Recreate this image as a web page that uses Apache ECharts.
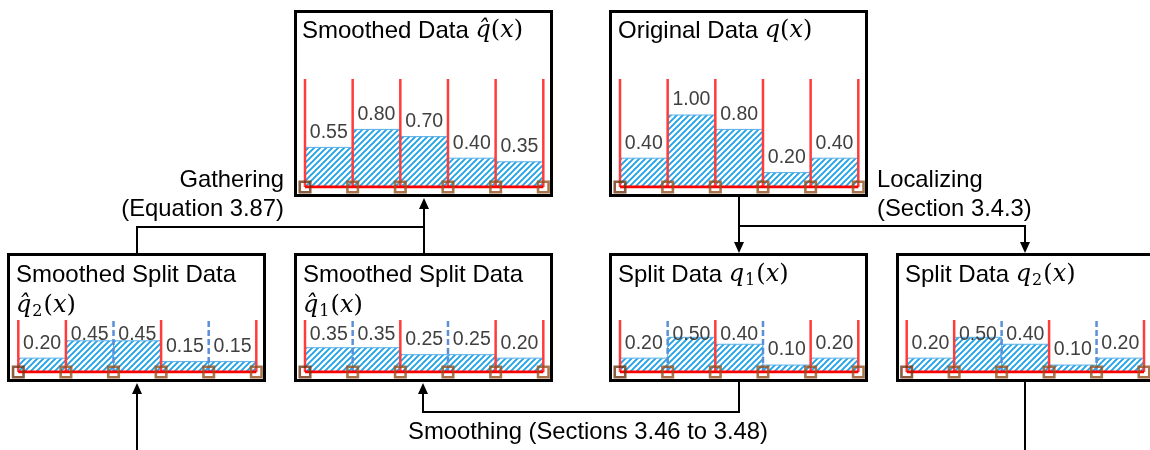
<!DOCTYPE html>
<html>
<head>
<meta charset="utf-8">
<script src="https://cdn.jsdelivr.net/npm/echarts@6/dist/echarts.min.js"></script>
<style>
  html, body { margin: 0; padding: 0; background: #fff; }
  #chart { width: 1150px; height: 450px; }
</style>
</head>
<body>
<div id="chart"></div>
<script>
// Bin edges shared by every histogram panel
const binEdges = [0, 1, 2, 3, 4, 5];

// Histogram heights per bin
const smoothedValues = [0.55, 0.80, 0.70, 0.40, 0.35];
const originalValues = [0.40, 1.00, 0.80, 0.20, 0.40];
const smoothedSplit2Values = [0.20, 0.45, 0.45, 0.15, 0.15];
const smoothedSplit1Values = [0.35, 0.35, 0.25, 0.25, 0.20];
const split1Values = [0.20, 0.50, 0.40, 0.10, 0.20];
const split2Values = [0.20, 0.50, 0.40, 0.10, 0.20];

// Boundary style at each edge: solid = partition boundary, dashed = inner edge
const fullBoundaries = ['solid', 'solid', 'solid', 'solid', 'solid', 'solid'];
const split1Boundaries = ['solid', 'dashed', 'solid', 'dashed', 'solid', 'solid'];
const split2Boundaries = ['solid', 'solid', 'dashed', 'solid', 'dashed', 'solid'];

// Value-axis ranges
const topAxisMax = 1.5;
const bottomAxisMax = 0.75;

const SANS = '"Liberation Sans", Arial, sans-serif';

// Diagonal hatch tile used to fill the bars
const hatch = (function () {
  const c = document.createElement('canvas');
  c.width = 6; c.height = 6;
  const g = c.getContext('2d');
  g.fillStyle = '#ffffff';
  g.fillRect(0, 0, 6, 6);
  g.strokeStyle = '#1fa3e6';
  g.lineWidth = 1.9;
  g.beginPath();
  g.moveTo(-1, 7); g.lineTo(7, -1);
  g.moveTo(-4, 4); g.lineTo(4, -4);
  g.moveTo(2, 10); g.lineTo(10, 2);
  g.stroke();
  return { image: c, repeat: 'repeat' };
})();

const panels = [
  { left: 305, top: 79, width: 238.3, height: 108, max: topAxisMax, values: smoothedValues, edges: fullBoundaries },
  { left: 620, top: 79, width: 238.3, height: 108, max: topAxisMax, values: originalValues, edges: fullBoundaries },
  { left: 18.3, top: 320, width: 238, height: 52, max: bottomAxisMax, values: smoothedSplit2Values, edges: split2Boundaries },
  { left: 305, top: 320, width: 238.3, height: 52, max: bottomAxisMax, values: smoothedSplit1Values, edges: split1Boundaries },
  { left: 620, top: 320, width: 238.3, height: 52, max: bottomAxisMax, values: split1Values, edges: split1Boundaries },
  { left: 906.7, top: 320, width: 237.3, height: 52, max: bottomAxisMax, values: split2Values, edges: split2Boundaries }
];

const grid = [], xAxis = [], yAxis = [], series = [];

panels.forEach(function (p, k) {
  grid.push({ left: p.left, top: p.top, width: p.width, height: p.height });
  xAxis.push({ type: 'value', gridIndex: k, min: binEdges[0], max: binEdges[binEdges.length - 1], show: false });
  yAxis.push({ type: 'value', gridIndex: k, min: 0, max: p.max, show: false });

  // hatched bars with their value labels
  series.push({
    type: 'custom', xAxisIndex: k, yAxisIndex: k, z: 2,
    data: p.values.map(function (v, i) { return [binEdges[i], binEdges[i + 1], v]; }),
    renderItem: function (params, api) {
      const a = api.coord([api.value(0), 0]);
      const b = api.coord([api.value(1), api.value(2)]);
      const ceil = api.coord([api.value(0), p.max])[1];
      const labelY = Math.max(b[1] - 15, ceil + 15);
      return {
        type: 'group',
        children: [
          { type: 'rect', shape: { x: a[0], y: b[1], width: b[0] - a[0], height: a[1] - b[1] },
            style: { fill: hatch, stroke: '#5aaee8', lineWidth: 1 } },
          { type: 'text', style: { text: api.value(2).toFixed(2), x: (a[0] + b[0]) / 2, y: labelY,
            align: 'center', verticalAlign: 'middle', font: '19.5px ' + SANS, fill: '#404040' } }
        ]
      };
    }
  });

  // bin boundaries
  series.push({
    type: 'custom', xAxisIndex: k, yAxisIndex: k, z: 3,
    data: p.edges.map(function (s, i) { return [binEdges[i], s === 'dashed' ? 1 : 0]; }),
    renderItem: function (params, api) {
      const a = api.coord([api.value(0), 0]);
      const b = api.coord([api.value(0), p.max]);
      const dashed = api.value(1) === 1;
      return {
        type: 'line',
        shape: { x1: a[0], y1: a[1], x2: b[0], y2: b[1] },
        style: dashed
          ? { stroke: '#5b8fd8', lineWidth: 2.5, lineDash: [6, 3] }
          : { stroke: '#ff3b3b', lineWidth: 2.5 }
      };
    }
  });

  // baseline
  series.push({
    type: 'line', xAxisIndex: k, yAxisIndex: k, z: 4,
    data: [[binEdges[0], 0], [binEdges[binEdges.length - 1], 0]],
    showSymbol: false, silent: true,
    lineStyle: { color: '#ff0000', width: 3 }
  });

  // edge markers
  series.push({
    type: 'scatter', xAxisIndex: k, yAxisIndex: k, z: 5,
    data: binEdges.map(function (e, i) {
      return i === 0 ? { value: [e, 0], itemStyle: { borderColor: '#6e3510' } } : [e, 0];
    }),
    symbol: 'rect', symbolSize: 10.5, silent: true,
    itemStyle: { color: 'rgba(0,0,0,0)', borderColor: '#93511f', borderWidth: 2.6 }
  });
});

// ---- frames, connectors and captions ----
function box(x, y, w, h) {
  return { type: 'rect', shape: { x: x, y: y, width: w, height: h },
    style: { fill: 'none', stroke: '#000', lineWidth: 3 }, z: 10 };
}
function path(points) {
  return { type: 'polyline', shape: { points: points },
    style: { fill: 'none', stroke: '#000', lineWidth: 2 }, z: 10 };
}
function arrow(x, y, dir) {
  const d = dir === 'up' ? 11 : -11;
  return { type: 'polygon', shape: { points: [[x, y], [x - 5, y + d], [x + 5, y + d]] },
    style: { fill: '#000' }, z: 11 };
}
function caption(text, x, y, align) {
  return { type: 'text', z: 12, style: { text: text, x: x, y: y, align: align,
    verticalAlign: 'middle', font: '23.8px ' + SANS, fill: '#000' } };
}
const titleRich = {
  t: { fontFamily: 'Liberation Sans', fontSize: 24, color: '#000' },
  m: { fontFamily: 'DejaVu Serif', fontStyle: 'italic', fontSize: 24, color: '#000' },
  p: { fontFamily: 'DejaVu Serif', fontSize: 24, color: '#000' },
  s: { fontFamily: 'DejaVu Serif', fontSize: 16, color: '#000', padding: [11, 1, 0, 1] }
};
function title(text, x, y) {
  return { type: 'text', z: 12, style: { text: text, x: x, y: y, align: 'left',
    verticalAlign: 'middle', rich: titleRich } };
}

const graphic = [
  box(295.5, 11.5, 256, 184),
  box(610.5, 11.5, 256, 184),
  box(8.5, 254.5, 256, 126),
  box(295.5, 254.5, 256, 126),
  box(610.5, 254.5, 256, 126),
  box(897.5, 254.5, 300, 126),

  // gathering
  path([[137, 254], [137, 227], [424, 227]]),
  path([[424, 254], [424, 205]]),
  arrow(424, 198, 'up'),
  // localizing
  path([[739, 197], [739, 246]]),
  arrow(739, 253, 'down'),
  path([[739, 226], [1025, 226], [1025, 246]]),
  arrow(1025, 253, 'down'),
  // smoothing
  path([[739, 382], [739, 412], [423, 412], [423, 390]]),
  arrow(423, 383, 'up'),
  // incoming / outgoing
  path([[137, 450], [137, 390]]),
  arrow(137, 383, 'up'),
  path([[1025, 382], [1025, 450]]),

  caption('Gathering', 284, 180, 'right'),
  caption('(Equation 3.87)', 284, 209, 'right'),
  caption('Localizing', 877, 180, 'left'),
  caption('(Section 3.4.3)', 877, 209, 'left'),
  caption('Smoothing (Sections 3.46 to 3.48)', 588, 432, 'center'),

  title('{t|Smoothed Data }{m|q\u0302}{p|(}{m|x}{p|)}', 302, 31),
  title('{t|Original Data }{m|q}{p|(}{m|x}{p|)}', 618, 31),
  title('{t|Smoothed Split Data}', 16, 275),
  title('{m|q\u0302}{s|2}{p|(}{m|x}{p|)}', 16, 306),
  title('{t|Smoothed Split Data}', 303, 275),
  title('{m|q\u0302}{s|1}{p|(}{m|x}{p|)}', 303, 306),
  title('{t|Split Data }{m|q}{s|1}{p|(}{m|x}{p|)}', 618, 275),
  title('{t|Split Data }{m|q}{s|2}{p|(}{m|x}{p|)}', 905, 275)
];

const chart = echarts.init(document.getElementById('chart'), null, { renderer: 'canvas' });
chart.setOption({
  animation: false,
  backgroundColor: '#fff',
  grid: grid,
  xAxis: xAxis,
  yAxis: yAxis,
  series: series,
  graphic: graphic
});
</script>
</body>
</html>
